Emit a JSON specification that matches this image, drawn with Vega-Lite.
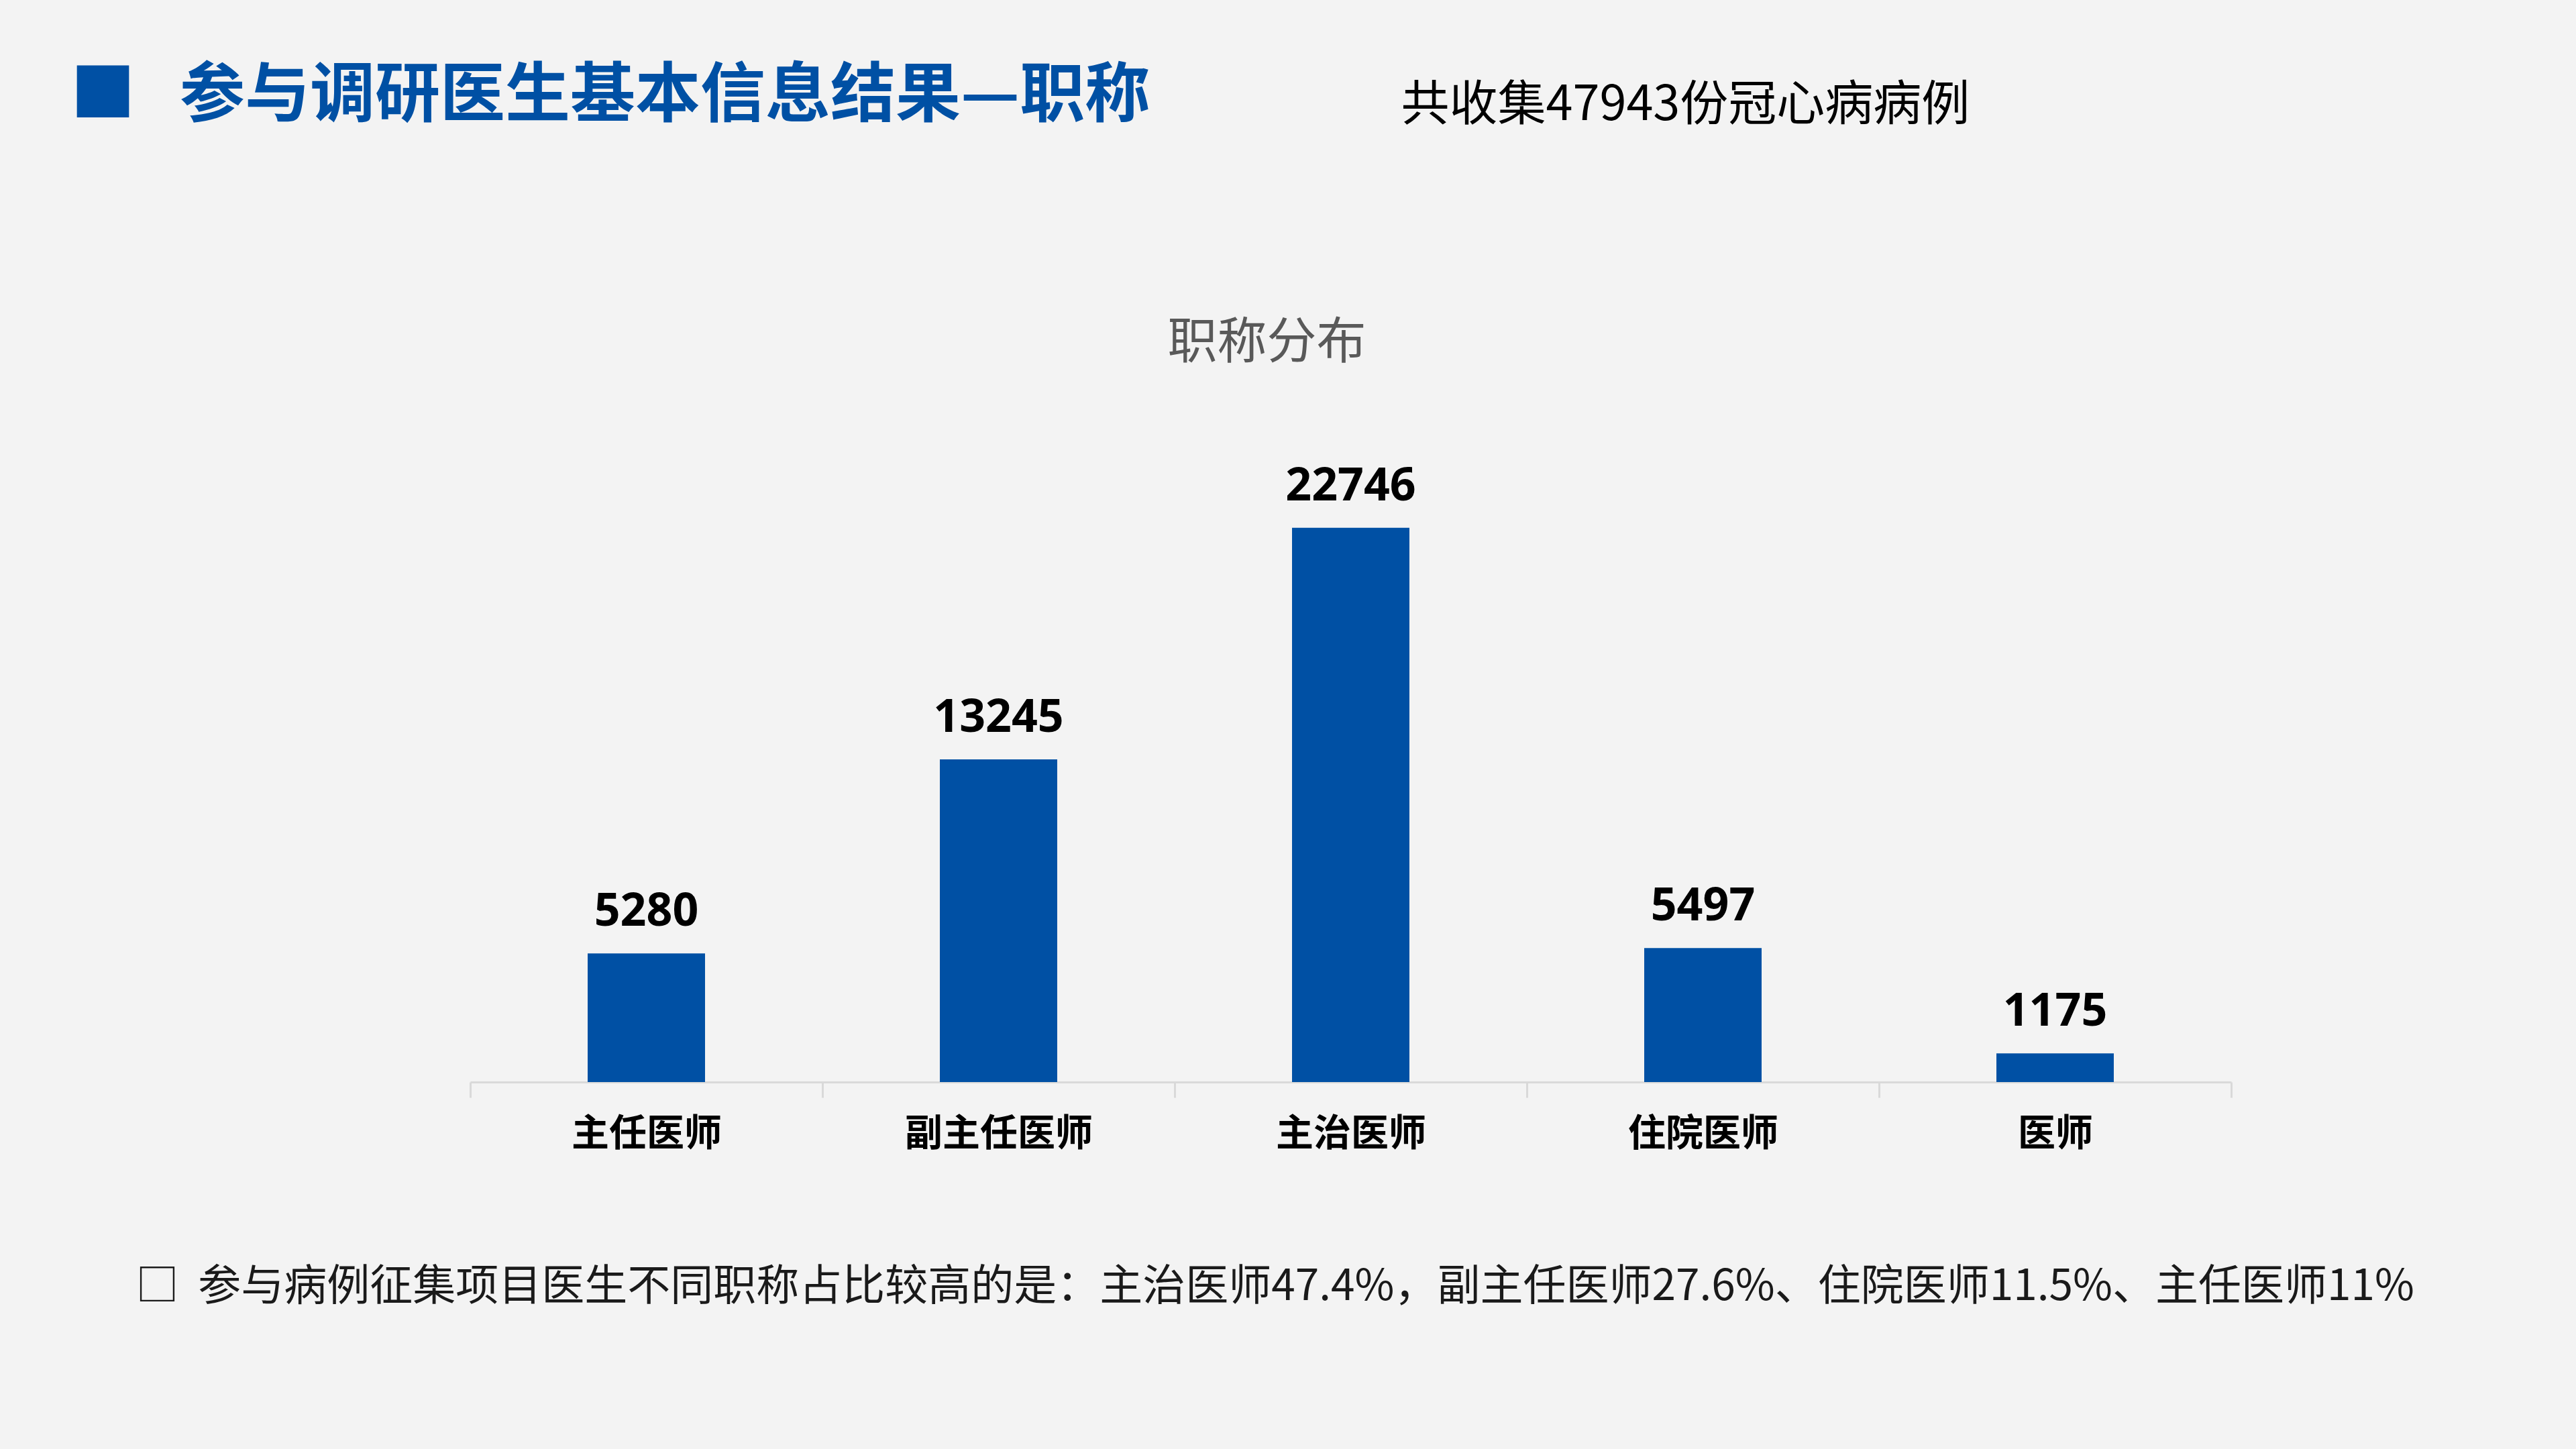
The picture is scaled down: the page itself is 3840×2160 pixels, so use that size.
{
  "$schema": "https://vega.github.io/schema/vega-lite/v6.json",
  "description": "参与调研医生基本信息结果——职称分布",
  "autosize": {"type": "none"},
  "width": 2625,
  "height": 908,
  "padding": {"left": 701, "top": 705, "right": 514, "bottom": 547},
  "background": "#F3F3F3",
  "config": {"view": {"stroke": null}, "font": "Noto Sans CJK SC"},
  "title": {
    "text": "■\u00a0\u00a0\u00a0参与调研医生基本信息结果—职称",
    "anchor": "start",
    "frame": "group",
    "dx": -596,
    "dy": 77,
    "font": "Noto Sans CJK SC",
    "fontSize": 97,
    "fontWeight": "bold",
    "color": "#0050A4"
  },
  "data": {
    "values": [
      {"title": "主任医师", "count": 5280},
      {"title": "副主任医师", "count": 13245},
      {"title": "主治医师", "count": 22746},
      {"title": "住院医师", "count": 5497},
      {"title": "医师", "count": 1175}
    ]
  },
  "encoding": {
    "x": {
      "field": "title",
      "type": "nominal",
      "sort": null,
      "scale": {"paddingInner": 0, "paddingOuter": 0},
      "axis": {
        "title": "□\u00a0\u00a0参与病例征集项目医生不同职称占比较高的是：主治医师47.4%，副主任医师27.6%、住院医师11.5%、主任医师11%",
        "titleX": -499,
        "titleY": 305,
        "titleAlign": "left",
        "titleBaseline": "middle",
        "titleAngle": 0,
        "titleFont": "Noto Sans CJK SC",
        "titleFontSize": 64,
        "titleFontWeight": "normal",
        "titleColor": "#1A1A1A",
        "labelFont": "Noto Sans CJK SC",
        "labelFontSize": 56,
        "labelFontWeight": "bold",
        "labelColor": "#000000",
        "labelAngle": 0,
        "labelLimit": 0,
        "labelPadding": 54,
        "labelBaseline": "middle",
        "tickBand": "extent",
        "tickSize": 23,
        "tickWidth": 3,
        "tickColor": "#D9D9D9",
        "domainColor": "#D9D9D9",
        "domainWidth": 3,
        "grid": false
      }
    }
  },
  "layer": [
    {
      "mark": {"type": "bar", "color": "#0050A4", "width": {"band": 0.3333}},
      "encoding": {
        "y": {
          "field": "count",
          "type": "quantitative",
          "scale": {"domain": [0, 25000]},
          "axis": {
            "title": "职称分布",
            "titleX": 1187,
            "titleY": -194,
            "titleAlign": "center",
            "titleBaseline": "middle",
            "titleAngle": 0,
            "titleFont": "Noto Sans CJK SC",
            "titleFontSize": 74,
            "titleFontWeight": "normal",
            "titleColor": "#595959",
            "labels": false,
            "ticks": false,
            "domain": false,
            "grid": false
          }
        }
      }
    },
    {
      "mark": {
        "type": "text",
        "baseline": "alphabetic",
        "dy": -41,
        "font": "Noto Sans",
        "fontSize": 68,
        "fontWeight": "bold",
        "color": "#000000"
      },
      "encoding": {
        "y": {
          "field": "count",
          "type": "quantitative",
          "scale": {"domain": [0, 25000]},
          "axis": {
            "orient": "right",
            "title": "共收集47943份冠心病病例",
            "titleX": -1238,
            "titleY": -549,
            "titleAlign": "left",
            "titleBaseline": "middle",
            "titleAngle": 0,
            "titleFont": "Noto Sans CJK SC",
            "titleFontSize": 72,
            "titleFontWeight": "normal",
            "titleColor": "#000000",
            "labels": false,
            "ticks": false,
            "domain": false,
            "grid": false
          }
        },
        "text": {"field": "count", "type": "quantitative", "format": "d"}
      }
    }
  ],
  "resolve": {"scale": {"y": "independent"}}
}
